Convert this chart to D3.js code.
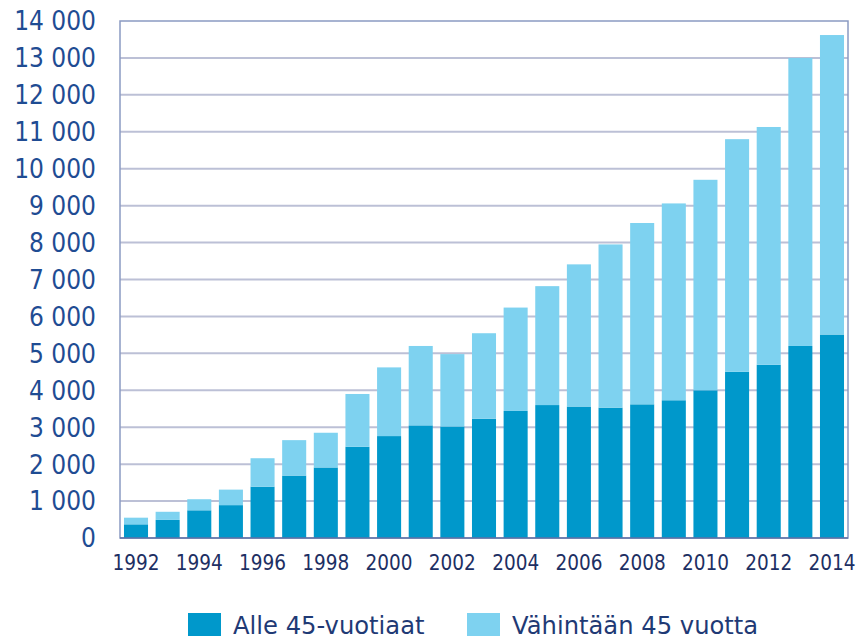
<!DOCTYPE html>
<html>
<head>
<meta charset="utf-8">
<script src="https://cdn.jsdelivr.net/npm/d3@7"></script>
<style>
  body { margin: 0; background: #fff; }
  text { font-family: "DejaVu Sans", Verdana, sans-serif; }
</style>
</head>
<body>
<script>
const years = d3.range(1992, 2015);
// Alle 45-vuotiaat
const under45 = [370, 490, 750, 890, 1390, 1690, 1910, 2470, 2760, 3050, 3020, 3230,
  3440, 3600, 3560, 3530, 3620, 3730, 4000, 4500, 4690, 5200, 5510];
// total of both groups
const totals = [550, 710, 1050, 1310, 2160, 2650, 2850, 3900, 4620, 5200, 4980, 5545,
  6240, 6820, 7410, 7950, 8530, 9060, 9700, 10800, 11130, 13000, 13620];
// Vähintään 45 vuotta
const over45 = totals.map((t, i) => t - under45[i]);
const yTicks = d3.range(0, 14001, 1000);
const seriesNames = ["Alle 45-vuotiaat", "Vähintään 45 vuotta"];
const colors = ["#0098cb", "#7ed2f0"];

const width = 860, height = 641;
const plotLeft = 120, plotRight = 848, plotTop = 21, plotBottom = 538;

const svg = d3.select("body").append("svg")
  .attr("width", width)
  .attr("height", height);

const x = d3.scaleBand()
  .domain(years)
  .range([plotLeft, plotRight])
  .paddingInner(0.24)
  .paddingOuter(0.126);

const y = d3.scaleLinear()
  .domain([0, 14000])
  .range([plotBottom, plotTop]);

const fmt = (d) => d3.format(",")(d).replace(",", " ");

// gridlines
svg.append("g")
  .selectAll("line")
  .data(yTicks.filter((d) => d > 0 && d < 14000))
  .join("line")
  .attr("x1", plotLeft).attr("x2", plotRight)
  .attr("y1", (d) => y(d)).attr("y2", (d) => y(d))
  .attr("stroke", "#bcc0d6")
  .attr("stroke-width", 2);

// frame
svg.append("rect")
  .attr("x", plotLeft).attr("y", plotTop)
  .attr("width", plotRight - plotLeft).attr("height", plotBottom - plotTop)
  .attr("fill", "none")
  .attr("stroke", "#8b9ac2")
  .attr("stroke-width", 1.5);

const stack = d3.stack().keys([0, 1]).value((d, k) => d[k]);
const rows = years.map((yr, i) => ({ year: yr, 0: under45[i], 1: over45[i] }));
const layers = stack(rows);

svg.append("g")
  .selectAll("g")
  .data(layers)
  .join("g")
  .attr("fill", (d, i) => colors[i])
  .selectAll("rect")
  .data((d) => d)
  .join("rect")
  .attr("x", (d) => x(d.data.year))
  .attr("width", x.bandwidth())
  .attr("y", (d) => y(d[1]))
  .attr("height", (d) => y(d[0]) - y(d[1]));

// bottom axis line
svg.append("line")
  .attr("x1", plotLeft).attr("x2", plotRight)
  .attr("y1", plotBottom).attr("y2", plotBottom)
  .attr("stroke", "#5f72a6")
  .attr("stroke-width", 1.5);

// y labels (slightly narrowed glyphs like the original)
svg.append("g")
  .selectAll("text")
  .data(yTicks)
  .join("text")
  .attr("transform", (d) => `translate(96,${y(d)}) scale(0.9,1)`)
  .attr("dy", "0.36em")
  .attr("text-anchor", "end")
  .attr("font-size", 26)
  .attr("fill", "#1f4c93")
  .text(fmt);

// x labels
svg.append("g")
  .selectAll("text")
  .data(years.filter((d) => d % 2 === 0))
  .join("text")
  .attr("transform", (d) => `translate(${x(d) + x.bandwidth() / 2},562) scale(0.88,1)`)
  .attr("dy", "0.36em")
  .attr("text-anchor", "middle")
  .attr("font-size", 21)
  .attr("fill", "#1d2f63")
  .text((d) => d);

// legend
const legendX = [188, 467];
const legend = svg.append("g")
  .selectAll("g")
  .data(seriesNames)
  .join("g")
  .attr("transform", (d, i) => `translate(${legendX[i]},613)`);
legend.append("rect")
  .attr("width", 33).attr("height", 23)
  .attr("fill", (d, i) => colors[i]);
legend.append("text")
  .attr("transform", "translate(45,12) scale(0.97,1)")
  .attr("dy", "0.36em")
  .attr("font-size", 25)
  .attr("fill", "#1f3a75")
  .text((d) => d);
</script>
</body>
</html>
